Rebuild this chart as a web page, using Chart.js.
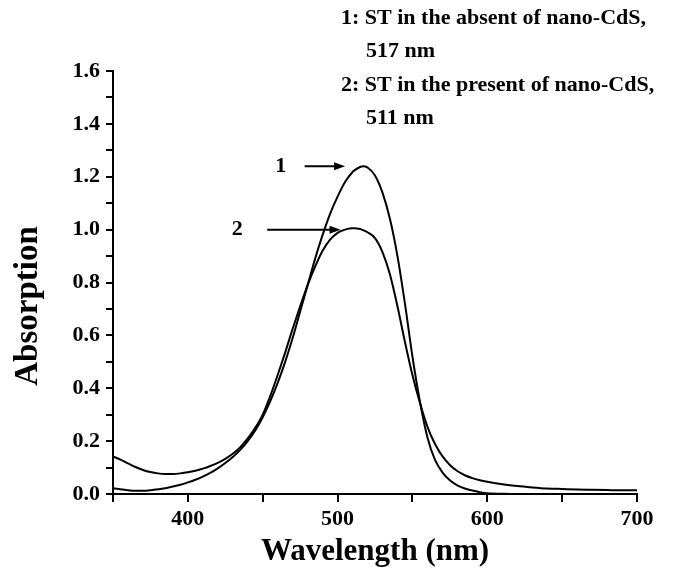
<!DOCTYPE html>
<html>
<head>
<meta charset="utf-8">
<title>Absorption spectra</title>
<script src="https://cdn.jsdelivr.net/npm/chart.js@4.4.0/dist/chart.umd.min.js"></script>
<style>
  html, body { margin: 0; padding: 0; background: #fff; }
</style>
</head>
<body>
<canvas id="chart" width="698" height="574"></canvas>
<script>
/* ===== Data ===== */
const wavelengths = [
  350, 355, 360, 365, 370, 375, 380, 385, 390, 395,
  400, 405, 410, 415, 420, 425, 430, 435, 440, 445,
  450, 455, 460, 465, 470, 475, 480, 485, 490, 495,
  500, 505, 510, 511, 515, 517, 520, 525, 530, 535,
  540, 545, 550, 555, 560, 565, 570, 575, 580, 585,
  590, 595, 600, 610, 620, 630, 640, 650, 660, 670,
  680, 690, 700
];

// 1: ST in the absent of nano-CdS (peak 517 nm)
const absentCdS = [
  0.022, 0.018, 0.014, 0.012, 0.012, 0.014, 0.018, 0.022, 0.028, 0.035,
  0.044, 0.054, 0.066, 0.080, 0.097, 0.117, 0.140, 0.167, 0.200, 0.240,
  0.290, 0.350, 0.420, 0.500, 0.590, 0.690, 0.790, 0.890, 0.980, 1.060,
  1.125, 1.180, 1.218, 1.223, 1.237, 1.240, 1.235, 1.205, 1.140, 1.040,
  0.900, 0.720, 0.520, 0.350, 0.215, 0.130, 0.082, 0.052, 0.033, 0.021,
  0.013, 0.007, 0.003, 0.001, 0.000, 0.000, 0.000, 0.000, 0.000, 0.000,
  0.000, 0.000, 0.000
];

// 2: ST in the present of nano-CdS (peak 511 nm)
const presentCdS = [
  0.142, 0.130, 0.116, 0.102, 0.091, 0.083, 0.078, 0.076, 0.076, 0.078,
  0.082, 0.088, 0.096, 0.106, 0.118, 0.133, 0.152, 0.177, 0.210, 0.250,
  0.300, 0.370, 0.450, 0.535, 0.625, 0.710, 0.790, 0.860, 0.920, 0.962,
  0.988, 1.000, 1.005, 1.005, 1.002, 0.998, 0.990, 0.968, 0.915, 0.830,
  0.710, 0.575, 0.450, 0.345, 0.255, 0.190, 0.143, 0.110, 0.087, 0.071,
  0.060, 0.052, 0.046, 0.037, 0.030, 0.025, 0.021, 0.019, 0.017, 0.016,
  0.015, 0.014, 0.014
];

const legendLines = [
  "1: ST in the absent of nano-CdS,",
  "517 nm",
  "2: ST in the present of nano-CdS,",
  "511 nm"
];

// curve labels with arrows: label, label x, arrow start x, arrow tip x, y (data units)
const curveLabels = [
  { text: "1", labelX: 462, fromX: 478, toX: 505, y: 1.24 },
  { text: "2", labelX: 433, fromX: 453, toX: 502, y: 1.0 }
];

const yTitle = "Absorption";

/* ===== Helpers ===== */
const SERIF = "'Liberation Serif', 'Times New Roman', serif";
const toPoints = (ys) => wavelengths.map((x, i) => ({ x: x, y: ys[i] }));

function drawArrow(ctx, x1, y, x2){
  ctx.beginPath();
  ctx.moveTo(x1, y);
  ctx.lineTo(x2 - 8, y);
  ctx.stroke();
  ctx.beginPath();
  ctx.moveTo(x2, y);
  ctx.lineTo(x2 - 11, y - 4);
  ctx.lineTo(x2 - 11, y + 4);
  ctx.closePath();
  ctx.fill();
}

/* ===== Annotation plugin ===== */
const annotations = {
  id: "annotations",
  afterDraw(chart){
    const ctx = chart.ctx;
    const xs = chart.scales.x, ys = chart.scales.y;
    ctx.save();
    ctx.fillStyle = "#000";
    ctx.strokeStyle = "#000";
    ctx.lineWidth = 2;

    // curve labels + arrows
    ctx.font = "bold 22px " + SERIF;
    ctx.textAlign = "center";
    ctx.textBaseline = "middle";
    curveLabels.forEach(c => {
      const py = ys.getPixelForValue(c.y);
      ctx.fillText(c.text, xs.getPixelForValue(c.labelX), py);
      drawArrow(ctx, xs.getPixelForValue(c.fromX), py, xs.getPixelForValue(c.toX));
    });

    // legend text, top right
    ctx.textAlign = "left";
    const rows = [18, 51, 85, 118];
    legendLines.forEach((t, i) => {
      const x = (i % 2 === 0) ? 341 : 366;
      ctx.fillText(t, x, rows[i]);
    });

    // y axis title, sits a bit below the middle of the axis like the original
    ctx.save();
    ctx.translate(28, 306);
    ctx.rotate(-Math.PI / 2);
    ctx.textAlign = "center";
    ctx.font = "bold 33px " + SERIF;
    ctx.fillText(yTitle, 0, 0);
    ctx.restore();

    ctx.restore();
  }
};

/* ===== Chart ===== */
const tickFont = { family: SERIF, weight: "bold", size: 22 };
const titleFont = { family: SERIF, weight: "bold", size: 31 };

new Chart(document.getElementById("chart"), {
  type: "line",
  data: {
    datasets: [
      {
        label: "absent",
        data: toPoints(absentCdS),
        borderColor: "#000",
        borderWidth: 2,
        pointRadius: 0,
        cubicInterpolationMode: "monotone",
        fill: false
      },
      {
        label: "present",
        data: toPoints(presentCdS),
        borderColor: "#000",
        borderWidth: 2,
        pointRadius: 0,
        cubicInterpolationMode: "monotone",
        fill: false
      }
    ]
  },
  options: {
    responsive: false,
    animation: false,
    devicePixelRatio: 1,
    layout: { padding: { top: 71, right: 61, left: 0, bottom: 0 } },
    plugins: { legend: { display: false }, tooltip: { enabled: false } },
    scales: {
      x: {
        type: "linear",
        min: 350,
        max: 700,
        ticks: {
          stepSize: 50,
          autoSkip: false,
          maxRotation: 0,
          padding: 4,
          color: "#000",
          font: tickFont,
          callback: v => (v % 100 === 0 ? String(v) : "")
        },
        grid: { drawOnChartArea: false, tickLength: 8, color: "#000", lineWidth: 2 },
        border: { color: "#000", width: 2 },
        title: {
          display: true,
          text: "Wavelength (nm)",
          color: "#000",
          font: titleFont,
          padding: { top: 0, bottom: 3 }
        },
        afterFit: s => { s.height = 80; }
      },
      y: {
        min: 0,
        max: 1.6,
        ticks: {
          stepSize: 0.1,
          autoSkip: false,
          padding: 6,
          color: "#000",
          font: tickFont,
          callback: v => (Math.round(v * 10) % 2 === 0 ? v.toFixed(1) : "")
        },
        grid: { drawOnChartArea: false, tickLength: 7, color: "#000", lineWidth: 2 },
        border: { color: "#000", width: 2 },
        afterFit: s => { s.width = 113; }
      }
    }
  },
  plugins: [annotations]
});
</script>
</body>
</html>
